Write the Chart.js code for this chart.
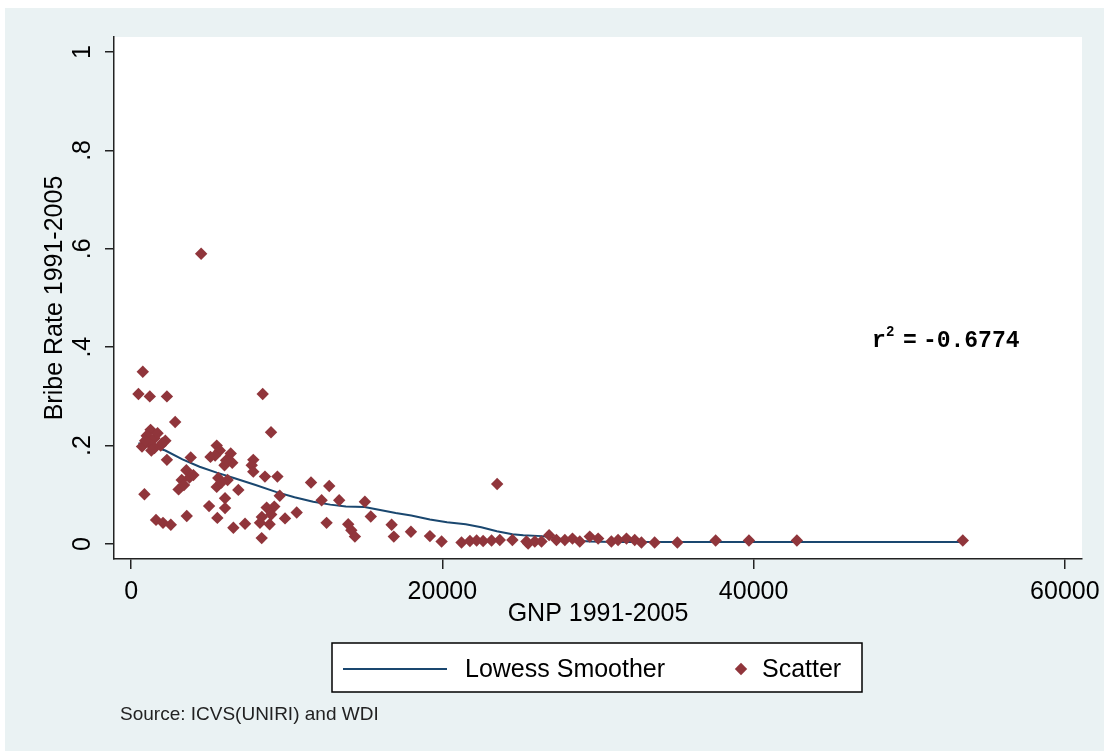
<!DOCTYPE html>
<html lang="en">
<head>
<meta charset="utf-8">
<title>Bribe Rate vs GNP 1991-2005</title>
<script src="https://cdn.jsdelivr.net/npm/chart.js@4/dist/chart.umd.min.js"></script>
<style>
  html, body { margin: 0; padding: 0; background: #ffffff; }
  #wrap { position: relative; width: 1104px; height: 751px; }
  canvas { display: block; }
</style>
</head>
<body>
<div id="wrap"><canvas id="chart-bribe" width="1104" height="751"></canvas></div>
<script>
/**
 * Scatter of bribe rate against GNP (1991-2005) with a lowess smoother,
 * drawn in the Stata s2color look.
 */

// --- Data: one entry per country (GNP, bribe rate) ---
const gnp = [
  4500, 750, 470, 1200, 2300, 2830, 1250, 1000, 1500, 700,
  1150, 1500, 2200, 1900, 900, 1700, 1300, 2000, 2300, 3830,
  3550, 3750, 3250, 3050, 4000, 3400, 855, 1600, 2050, 2550,
  3575, 5500, 5100, 5700, 6400, 6500, 6000, 6100, 5400, 7850,
  7750, 7850, 8600, 9400, 5600, 5500, 6200, 5800, 6890, 6035,
  6035, 5010, 5540, 6570, 7320, 9550, 8710, 9200, 8400, 9000,
  9890, 8280, 8900, 8390, 10640, 8455, 8990, 11560, 12730, 12240,
  13370, 12560, 13950, 14150, 14380, 15020, 15400, 16740, 16880, 17980,
  19200, 19950, 21230, 21770, 22200, 22620, 23160, 23690, 23520, 24500,
  25400, 25510, 25940, 26370, 26860, 27330, 27870, 28360, 28830, 29470,
  30010, 30860, 31290, 31830, 32360, 32790, 33640, 35100, 37560, 39700,
  42780, 53440,
];
const bribe = [
  0.590, 0.350, 0.305, 0.300, 0.300, 0.248, 0.232, 0.220, 0.215, 0.198,
  0.205, 0.195, 0.210, 0.200, 0.210, 0.225, 0.190, 0.205, 0.171, 0.176,
  0.150, 0.135, 0.130, 0.111, 0.140, 0.120, 0.101, 0.049, 0.043, 0.039,
  0.057, 0.200, 0.177, 0.190, 0.184, 0.165, 0.160, 0.170, 0.180, 0.171,
  0.160, 0.147, 0.137, 0.137, 0.134, 0.116, 0.130, 0.125, 0.110, 0.093,
  0.073, 0.077, 0.053, 0.033, 0.041, 0.098, 0.074, 0.076, 0.055, 0.060,
  0.052, 0.043, 0.040, 0.012, 0.064, 0.305, 0.227, 0.125, 0.118, 0.089,
  0.089, 0.043, 0.040, 0.028, 0.015, 0.086, 0.056, 0.039, 0.015, 0.025,
  0.016, 0.005, 0.003, 0.006, 0.007, 0.006, 0.007, 0.008, 0.122, 0.008,
  0.005, 0.001, 0.005, 0.005, 0.018, 0.008, 0.008, 0.011, 0.005, 0.015,
  0.011, 0.005, 0.008, 0.011, 0.008, 0.003, 0.003, 0.003, 0.007, 0.007,
  0.007, 0.007,
];

// --- Lowess smoother ---
const lowessX = [
  470, 1200, 2200, 3300, 4400, 5500, 6600, 8000, 9300, 10500,
  11700, 12800, 13800, 15000, 16000, 17000, 18000, 19200, 20300, 21500,
  22500, 23500, 24500, 25200, 26400, 27300, 28000, 29500, 31000, 33000,
  35100, 37560, 39700, 42780, 53440,
];
const lowessY = [
  0.205, 0.200, 0.190, 0.172, 0.157, 0.145, 0.134, 0.120, 0.106, 0.095,
  0.086, 0.080, 0.076, 0.075, 0.069, 0.063, 0.058, 0.050, 0.044, 0.040,
  0.034, 0.026, 0.020, 0.018, 0.016, 0.012, 0.008, 0.005, 0.004, 0.004,
  0.004, 0.004, 0.004, 0.004, 0.004,
];

// --- Axis ticks ---
const xTicks = [0, 20000, 40000, 60000];
const yTicks = [0, 0.2, 0.4, 0.6, 0.8, 1];
const yTickLabels = ['0', '.2', '.4', '.6', '.8', '1'];

// Stata s2color palette
const BG      = '#eaf2f3';
const MAROON  = '#90353b';
const NAVY    = '#1a476f';
const SANS    = "'Liberation Sans', Arial, sans-serif";
const MONO    = "'Liberation Mono', 'Courier New', monospace";

/** Diamond marker, same shape as Stata's "D" symbol. */
function diamond(ctx, x, y, r) {
  ctx.beginPath();
  ctx.moveTo(x, y - r);
  ctx.lineTo(x + r, y);
  ctx.lineTo(x, y + r);
  ctx.lineTo(x - r, y);
  ctx.closePath();
  ctx.fill();
}

/** Outer graph region + white plot region. */
const backgroundPlugin = {
  id: 'stataBackground',
  beforeDraw(chart) {
    const { ctx, chartArea: a } = chart;
    ctx.save();
    ctx.fillStyle = '#ffffff';
    ctx.fillRect(0, 0, chart.width, chart.height);
    ctx.fillStyle = BG;
    ctx.fillRect(5, 8, chart.width - 5, chart.height - 8);
    ctx.fillStyle = '#ffffff';
    ctx.fillRect(a.left, a.top, a.right - a.left, a.bottom - a.top);
    ctx.restore();
  },
};

/** Vertical y tick labels, r² note, boxed legend and source note. */
const extrasPlugin = {
  id: 'stataExtras',
  afterDraw(chart) {
    const { ctx } = chart;
    const xs = chart.scales.x;
    const ys = chart.scales.y;
    ctx.save();

    // y tick labels, rotated like Stata's default
    ctx.fillStyle = '#000';
    ctx.font = `25px ${SANS}`;
    ctx.textAlign = 'center';
    ctx.textBaseline = 'alphabetic';
    yTicks.forEach((v, i) => {
      ctx.save();
      ctx.translate(90, ys.getPixelForValue(v));
      ctx.rotate(-Math.PI / 2);
      ctx.fillText(yTickLabels[i], 0, 0);
      ctx.restore();
    });

    // r² annotation placed in data space
    const ax = xs.getPixelForValue(47600);
    const ay = ys.getPixelForValue(0.4126);
    ctx.textAlign = 'left';
    ctx.textBaseline = 'middle';
    ctx.font = `bold 23px ${MONO}`;
    ctx.fillText('r', ax, ay);
    ctx.font = `bold 14px ${MONO}`;
    ctx.fillText('2', ax + 14, ay - 9);
    ctx.font = `bold 23px ${MONO}`;
    ctx.fillText('=', ax + 31, ay);
    ctx.fillText('-0.6774', ax + 51, ay);

    // legend box
    ctx.fillStyle = '#ffffff';
    ctx.fillRect(332, 643, 530, 49);
    ctx.strokeStyle = '#000';
    ctx.lineWidth = 1.5;
    ctx.strokeRect(332, 643, 530, 49);

    ctx.strokeStyle = NAVY;
    ctx.lineWidth = 2;
    ctx.beginPath();
    ctx.moveTo(343, 669);
    ctx.lineTo(447, 669);
    ctx.stroke();

    ctx.fillStyle = MAROON;
    diamond(ctx, 741, 669, 6.2);

    ctx.fillStyle = '#000';
    ctx.font = `25px ${SANS}`;
    ctx.fillText('Lowess Smoother', 465, 670);
    ctx.fillText('Scatter', 762, 670);

    // source note
    ctx.fillStyle = '#222';
    ctx.font = `19px ${SANS}`;
    ctx.fillText('Source: ICVS(UNIRI) and WDI', 120, 715);

    ctx.restore();
  },
};

const scatterPoints = gnp.map((x, i) => ({ x, y: bribe[i] }));
const lowessPoints  = lowessX.map((x, i) => ({ x, y: lowessY[i] }));

new Chart(document.getElementById('chart-bribe'), {
  type: 'scatter',
  data: {
    datasets: [
      {
        label:           'Scatter',
        data:            scatterPoints,
        pointStyle:      'rectRot',
        pointRadius:     6.2,
        pointBorderWidth: 0,
        backgroundColor: MAROON,
        borderColor:     MAROON,
        order:           0,
      },
      {
        label:           'Lowess Smoother',
        data:            lowessPoints,
        showLine:        true,
        borderColor:     NAVY,
        borderWidth:     2,
        pointRadius:     0,
        tension:         0,
        order:           1,
      },
    ],
  },
  options: {
    responsive:  false,
    animation:   false,
    devicePixelRatio: 1,
    layout: { padding: { left: 0, top: 37, right: 22, bottom: 112 } },
    plugins: {
      legend:  { display: false },
      tooltip: { enabled: false },
    },
    scales: {
      x: {
        type: 'linear',
        min: -1100,
        max: 61100,
        afterBuildTicks: (s) => { s.ticks = xTicks.map((v) => ({ value: v })); },
        afterFit: (s) => { s.height = 80; s.paddingLeft = 0; s.paddingRight = 0; },
        border: { display: true, color: '#222', width: 1.5 },
        grid: {
          drawOnChartArea: false,
          drawTicks: true,
          tickLength: 10,
          color: '#222',
          lineWidth: 1.5,
        },
        ticks: {
          color: '#000',
          padding: 8,
          maxRotation: 0,
          font: { family: SANS, size: 25 },
          callback: (v) => String(v),
        },
        title: {
          display: true,
          text: 'GNP 1991-2005',
          color: '#000',
          font: { family: SANS, size: 25, lineHeight: 1.2 },
          padding: { top: 0, bottom: 10 },
        },
      },
      y: {
        type: 'linear',
        min: -0.0305,
        max: 1.0305,
        afterBuildTicks: (s) => { s.ticks = yTicks.map((v) => ({ value: v })); },
        afterFit: (s) => { s.width = 114; s.paddingTop = 0; s.paddingBottom = 0; },
        border: { display: true, color: '#222', width: 1.5 },
        grid: {
          drawOnChartArea: false,
          drawTicks: true,
          tickLength: 9,
          color: '#222',
          lineWidth: 1.5,
        },
        ticks: { display: false },
        title: {
          display: true,
          text: 'Bribe Rate 1991-2005',
          color: '#000',
          font: { family: SANS, size: 25, lineHeight: 1.2 },
          padding: { top: 40, bottom: 0 },
        },
      },
    },
  },
  plugins: [backgroundPlugin, extrasPlugin],
});
</script>
</body>
</html>
